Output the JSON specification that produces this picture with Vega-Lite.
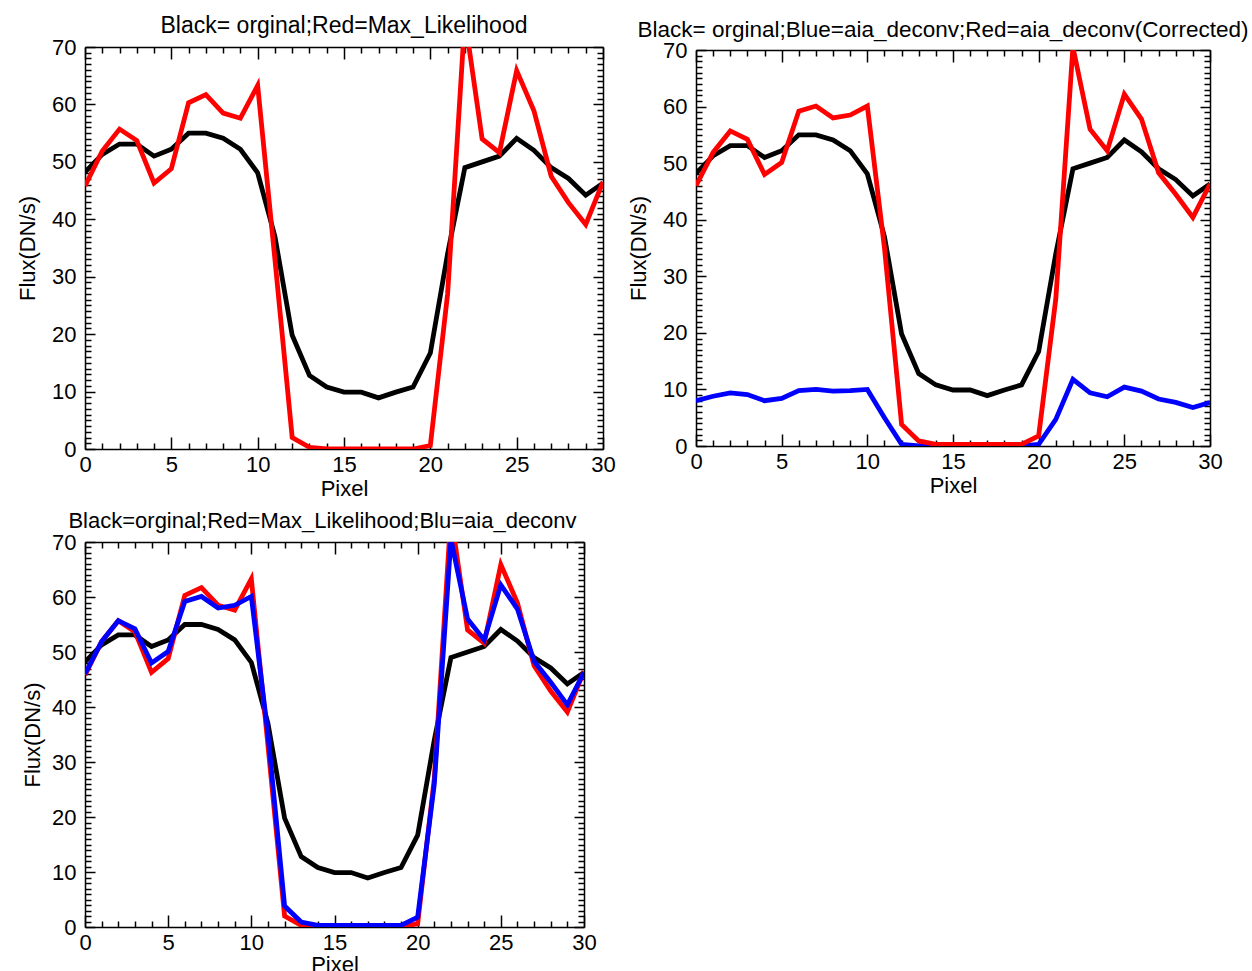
{
  "$schema": "https://vega.github.io/schema/vega-lite/v6.json",
  "padding": {"left": 16, "top": 15, "right": 0, "bottom": 0},
  "background": "white",
  "config": {
    "font": "Liberation Sans",
    "view": {"stroke": null},
    "axis": {"grid": false, "domainColor": "black", "domainWidth": 1.5, "tickColor": "black", "tickWidth": 1.5, "labelFontSize": 22, "titleFontSize": 22, "titleFontWeight": "normal", "labelColor": "black", "titleColor": "black", "labelFlush": false, "labelOverlap": false},
    "title": {"fontSize": 23, "fontWeight": "normal", "color": "black", "frame": "group", "offset": -2},
    "line": {"strokeWidth": 4.8}
  },
  "datasets": {
    "d": [
      {"px":0,"s":"o","v":48.2},{"px":1,"s":"o","v":51.3},{"px":2,"s":"o","v":53.1},{"px":3,"s":"o","v":53.1},{"px":4,"s":"o","v":51},{"px":5,"s":"o","v":52.2},{"px":6,"s":"o","v":55},{"px":7,"s":"o","v":55},{"px":8,"s":"o","v":54.1},{"px":9,"s":"o","v":52.2},{"px":10,"s":"o","v":48.1},{"px":11,"s":"o","v":37},{"px":12,"s":"o","v":19.8},{"px":13,"s":"o","v":12.8},{"px":14,"s":"o","v":10.8},{"px":15,"s":"o","v":9.9},{"px":16,"s":"o","v":9.9},{"px":17,"s":"o","v":8.9},{"px":18,"s":"o","v":9.9},{"px":19,"s":"o","v":10.8},{"px":20,"s":"o","v":16.7},{"px":21,"s":"o","v":34},{"px":22,"s":"o","v":49},{"px":23,"s":"o","v":50},{"px":24,"s":"o","v":51},{"px":25,"s":"o","v":54.1},{"px":26,"s":"o","v":52},{"px":27,"s":"o","v":49},{"px":28,"s":"o","v":47.1},{"px":29,"s":"o","v":44.2},{"px":30,"s":"o","v":46.3},
      {"px":0,"s":"m","v":45.8},{"px":1,"s":"m","v":51.9},{"px":2,"s":"m","v":55.7},{"px":3,"s":"m","v":53.7},{"px":4,"s":"m","v":46.3},{"px":5,"s":"m","v":48.8},{"px":6,"s":"m","v":60.3},{"px":7,"s":"m","v":61.7},{"px":8,"s":"m","v":58.5},{"px":9,"s":"m","v":57.6},{"px":10,"s":"m","v":63.3},{"px":11,"s":"m","v":33},{"px":12,"s":"m","v":2},{"px":13,"s":"m","v":0.3},{"px":14,"s":"m","v":0},{"px":15,"s":"m","v":0},{"px":16,"s":"m","v":0},{"px":17,"s":"m","v":0},{"px":18,"s":"m","v":0},{"px":19,"s":"m","v":0},{"px":20,"s":"m","v":0.6},{"px":21,"s":"m","v":27},{"px":22,"s":"m","v":75},{"px":23,"s":"m","v":54},{"px":24,"s":"m","v":51.6},{"px":25,"s":"m","v":65.9},{"px":26,"s":"m","v":58.9},{"px":27,"s":"m","v":47.5},{"px":28,"s":"m","v":42.9},{"px":29,"s":"m","v":39.1},{"px":30,"s":"m","v":46.5},
      {"px":0,"s":"c","v":46},{"px":1,"s":"c","v":51.9},{"px":2,"s":"c","v":55.7},{"px":3,"s":"c","v":54.2},{"px":4,"s":"c","v":48},{"px":5,"s":"c","v":50.1},{"px":6,"s":"c","v":59.2},{"px":7,"s":"c","v":60.1},{"px":8,"s":"c","v":58},{"px":9,"s":"c","v":58.5},{"px":10,"s":"c","v":60.1},{"px":11,"s":"c","v":35},{"px":12,"s":"c","v":3.8},{"px":13,"s":"c","v":0.9},{"px":14,"s":"c","v":0.3},{"px":15,"s":"c","v":0.3},{"px":16,"s":"c","v":0.3},{"px":17,"s":"c","v":0.3},{"px":18,"s":"c","v":0.3},{"px":19,"s":"c","v":0.3},{"px":20,"s":"c","v":1.8},{"px":21,"s":"c","v":26},{"px":22,"s":"c","v":70.5},{"px":23,"s":"c","v":56},{"px":24,"s":"c","v":52.2},{"px":25,"s":"c","v":62.2},{"px":26,"s":"c","v":57.8},{"px":27,"s":"c","v":48.3},{"px":28,"s":"c","v":44.5},{"px":29,"s":"c","v":40.4},{"px":30,"s":"c","v":46.3},
      {"px":0,"s":"b","v":8},{"px":1,"s":"b","v":8.8},{"px":2,"s":"b","v":9.4},{"px":3,"s":"b","v":9.1},{"px":4,"s":"b","v":8},{"px":5,"s":"b","v":8.4},{"px":6,"s":"b","v":9.8},{"px":7,"s":"b","v":10},{"px":8,"s":"b","v":9.7},{"px":9,"s":"b","v":9.8},{"px":10,"s":"b","v":10},{"px":11,"s":"b","v":5},{"px":12,"s":"b","v":0.3},{"px":13,"s":"b","v":0},{"px":14,"s":"b","v":0},{"px":15,"s":"b","v":0},{"px":16,"s":"b","v":0},{"px":17,"s":"b","v":0},{"px":18,"s":"b","v":0},{"px":19,"s":"b","v":0},{"px":20,"s":"b","v":0.3},{"px":21,"s":"b","v":4.7},{"px":22,"s":"b","v":11.8},{"px":23,"s":"b","v":9.4},{"px":24,"s":"b","v":8.7},{"px":25,"s":"b","v":10.4},{"px":26,"s":"b","v":9.7},{"px":27,"s":"b","v":8.3},{"px":28,"s":"b","v":7.7},{"px":29,"s":"b","v":6.8},{"px":30,"s":"b","v":7.7}
    ]
  },
  "spacing": 11,
  "columns": 1,
  "align": "none",
  "concat": [
    {
      "hconcat": [
        {
          "width": 518, "height": 402,
          "title": "Black= orginal;Red=Max_Likelihood",
          "data": {"name": "d"},
          "layer": [
            {"transform": [{"filter": "datum.s === 'o'"}], "mark": {"type": "line", "color": "black", "clip": true},
             "encoding": {
               "x": {"field": "px", "type": "quantitative", "scale": {"domain": [0, 30], "nice": false}, "axis": {"orient": "bottom", "values": [0,1,2,3,4,5,6,7,8,9,10,11,12,13,14,15,16,17,18,19,20,21,22,23,24,25,26,27,28,29,30], "labelExpr": "datum.value % 5 === 0 ? datum.label : ''", "tickSize": {"condition": {"test": "datum.value % 5 === 0", "value": -12}, "value": -6}, "title": "Pixel", "labelPadding": 17, "titlePadding": -3}},
               "y": {"field": "v", "type": "quantitative", "scale": {"domain": [0, 70], "nice": false}, "axis": {"orient": "left", "values": [0,1,2,3,4,5,6,7,8,9,10,11,12,13,14,15,16,17,18,19,20,21,22,23,24,25,26,27,28,29,30,31,32,33,34,35,36,37,38,39,40,41,42,43,44,45,46,47,48,49,50,51,52,53,54,55,56,57,58,59,60,61,62,63,64,65,66,67,68,69,70], "labelExpr": "datum.value % 10 === 0 ? datum.label : ''", "tickSize": {"condition": {"test": "datum.value % 10 === 0", "value": -10}, "value": -6}, "title": "Flux(DN/s)", "labelPadding": 19, "titlePadding": 12}}
             }},
            {"transform": [{"filter": "datum.s === 'm'"}], "mark": {"type": "line", "color": "#ff0000", "clip": true},
             "encoding": {
               "x": {"field": "px", "type": "quantitative", "axis": {"orient": "top", "values": [0,1,2,3,4,5,6,7,8,9,10,11,12,13,14,15,16,17,18,19,20,21,22,23,24,25,26,27,28,29,30], "labels": false, "title": null, "tickSize": {"condition": {"test": "datum.value % 5 === 0", "value": -12}, "value": -6}}},
               "y": {"field": "v", "type": "quantitative", "axis": {"orient": "right", "values": [0,1,2,3,4,5,6,7,8,9,10,11,12,13,14,15,16,17,18,19,20,21,22,23,24,25,26,27,28,29,30,31,32,33,34,35,36,37,38,39,40,41,42,43,44,45,46,47,48,49,50,51,52,53,54,55,56,57,58,59,60,61,62,63,64,65,66,67,68,69,70], "labels": false, "title": null, "tickSize": {"condition": {"test": "datum.value % 10 === 0", "value": -10}, "value": -6}}}
             }}
          ],
          "resolve": {"axis": {"x": "independent", "y": "independent"}}
        },
        {
          "width": 514, "height": 396,
          "title": {"text": "Black= orginal;Blue=aia_deconv;Red=aia_deconv(Corrected)", "dx": -10, "fontSize": 22.5},
          "data": {"name": "d"},
          "layer": [
            {"transform": [{"filter": "datum.s === 'o'"}], "mark": {"type": "line", "color": "black", "clip": true},
             "encoding": {
               "x": {"field": "px", "type": "quantitative", "scale": {"domain": [0, 30], "nice": false}, "axis": {"orient": "bottom", "values": [0,1,2,3,4,5,6,7,8,9,10,11,12,13,14,15,16,17,18,19,20,21,22,23,24,25,26,27,28,29,30], "labelExpr": "datum.value % 5 === 0 ? datum.label : ''", "tickSize": {"condition": {"test": "datum.value % 5 === 0", "value": -12}, "value": -6}, "title": "Pixel", "labelPadding": 17, "titlePadding": -3}},
               "y": {"field": "v", "type": "quantitative", "scale": {"domain": [0, 70], "nice": false}, "axis": {"orient": "left", "values": [0,1,2,3,4,5,6,7,8,9,10,11,12,13,14,15,16,17,18,19,20,21,22,23,24,25,26,27,28,29,30,31,32,33,34,35,36,37,38,39,40,41,42,43,44,45,46,47,48,49,50,51,52,53,54,55,56,57,58,59,60,61,62,63,64,65,66,67,68,69,70], "labelExpr": "datum.value % 10 === 0 ? datum.label : ''", "tickSize": {"condition": {"test": "datum.value % 10 === 0", "value": -10}, "value": -6}, "title": "Flux(DN/s)", "labelPadding": 19, "titlePadding": 12}}
             }},
            {"transform": [{"filter": "datum.s === 'b'"}], "mark": {"type": "line", "color": "#0000ff", "clip": true},
             "encoding": {
               "x": {"field": "px", "type": "quantitative", "axis": {"orient": "top", "values": [0,1,2,3,4,5,6,7,8,9,10,11,12,13,14,15,16,17,18,19,20,21,22,23,24,25,26,27,28,29,30], "labels": false, "title": null, "tickSize": {"condition": {"test": "datum.value % 5 === 0", "value": -12}, "value": -6}}},
               "y": {"field": "v", "type": "quantitative", "axis": {"orient": "right", "values": [0,1,2,3,4,5,6,7,8,9,10,11,12,13,14,15,16,17,18,19,20,21,22,23,24,25,26,27,28,29,30,31,32,33,34,35,36,37,38,39,40,41,42,43,44,45,46,47,48,49,50,51,52,53,54,55,56,57,58,59,60,61,62,63,64,65,66,67,68,69,70], "labels": false, "title": null, "tickSize": {"condition": {"test": "datum.value % 10 === 0", "value": -10}, "value": -6}}}
             }},
            {"transform": [{"filter": "datum.s === 'c'"}], "mark": {"type": "line", "color": "#ff0000", "clip": true},
             "encoding": {
               "x": {"field": "px", "type": "quantitative", "axis": null},
               "y": {"field": "v", "type": "quantitative", "axis": null}
             }}
          ],
          "resolve": {"axis": {"x": "independent", "y": "independent"}}
        }
      ],
      "spacing": 11,
      "center": true
    },
    {
      "width": 499, "height": 385,
      "title": {"text": "Black=orginal;Red=Max_Likelihood;Blu=aia_deconv", "fontSize": 22, "dx": -12},
      "data": {"name": "d"},
      "layer": [
        {"transform": [{"filter": "datum.s === 'o'"}], "mark": {"type": "line", "color": "black", "clip": true},
         "encoding": {
           "x": {"field": "px", "type": "quantitative", "scale": {"domain": [0, 30], "nice": false}, "axis": {"orient": "bottom", "values": [0,1,2,3,4,5,6,7,8,9,10,11,12,13,14,15,16,17,18,19,20,21,22,23,24,25,26,27,28,29,30], "labelExpr": "datum.value % 5 === 0 ? datum.label : ''", "tickSize": {"condition": {"test": "datum.value % 5 === 0", "value": -12}, "value": -6}, "title": "Pixel", "labelPadding": 17, "titlePadding": -5}},
           "y": {"field": "v", "type": "quantitative", "scale": {"domain": [0, 70], "nice": false}, "axis": {"orient": "left", "values": [0,1,2,3,4,5,6,7,8,9,10,11,12,13,14,15,16,17,18,19,20,21,22,23,24,25,26,27,28,29,30,31,32,33,34,35,36,37,38,39,40,41,42,43,44,45,46,47,48,49,50,51,52,53,54,55,56,57,58,59,60,61,62,63,64,65,66,67,68,69,70], "labelExpr": "datum.value % 10 === 0 ? datum.label : ''", "tickSize": {"condition": {"test": "datum.value % 10 === 0", "value": -10}, "value": -6}, "title": "Flux(DN/s)", "labelPadding": 19, "titlePadding": 7}}
         }},
        {"transform": [{"filter": "datum.s === 'm'"}], "mark": {"type": "line", "color": "#ff0000", "clip": true},
         "encoding": {
           "x": {"field": "px", "type": "quantitative", "axis": {"orient": "top", "values": [0,1,2,3,4,5,6,7,8,9,10,11,12,13,14,15,16,17,18,19,20,21,22,23,24,25,26,27,28,29,30], "labels": false, "title": null, "tickSize": {"condition": {"test": "datum.value % 5 === 0", "value": -12}, "value": -6}}},
           "y": {"field": "v", "type": "quantitative", "axis": {"orient": "right", "values": [0,1,2,3,4,5,6,7,8,9,10,11,12,13,14,15,16,17,18,19,20,21,22,23,24,25,26,27,28,29,30,31,32,33,34,35,36,37,38,39,40,41,42,43,44,45,46,47,48,49,50,51,52,53,54,55,56,57,58,59,60,61,62,63,64,65,66,67,68,69,70], "labels": false, "title": null, "tickSize": {"condition": {"test": "datum.value % 10 === 0", "value": -10}, "value": -6}}}
         }},
        {"transform": [{"filter": "datum.s === 'c'"}], "mark": {"type": "line", "color": "#0000ff", "clip": true},
         "encoding": {
           "x": {"field": "px", "type": "quantitative", "axis": null},
           "y": {"field": "v", "type": "quantitative", "axis": null}
         }}
      ],
      "resolve": {"axis": {"x": "independent", "y": "independent"}}
    }
  ]
}
